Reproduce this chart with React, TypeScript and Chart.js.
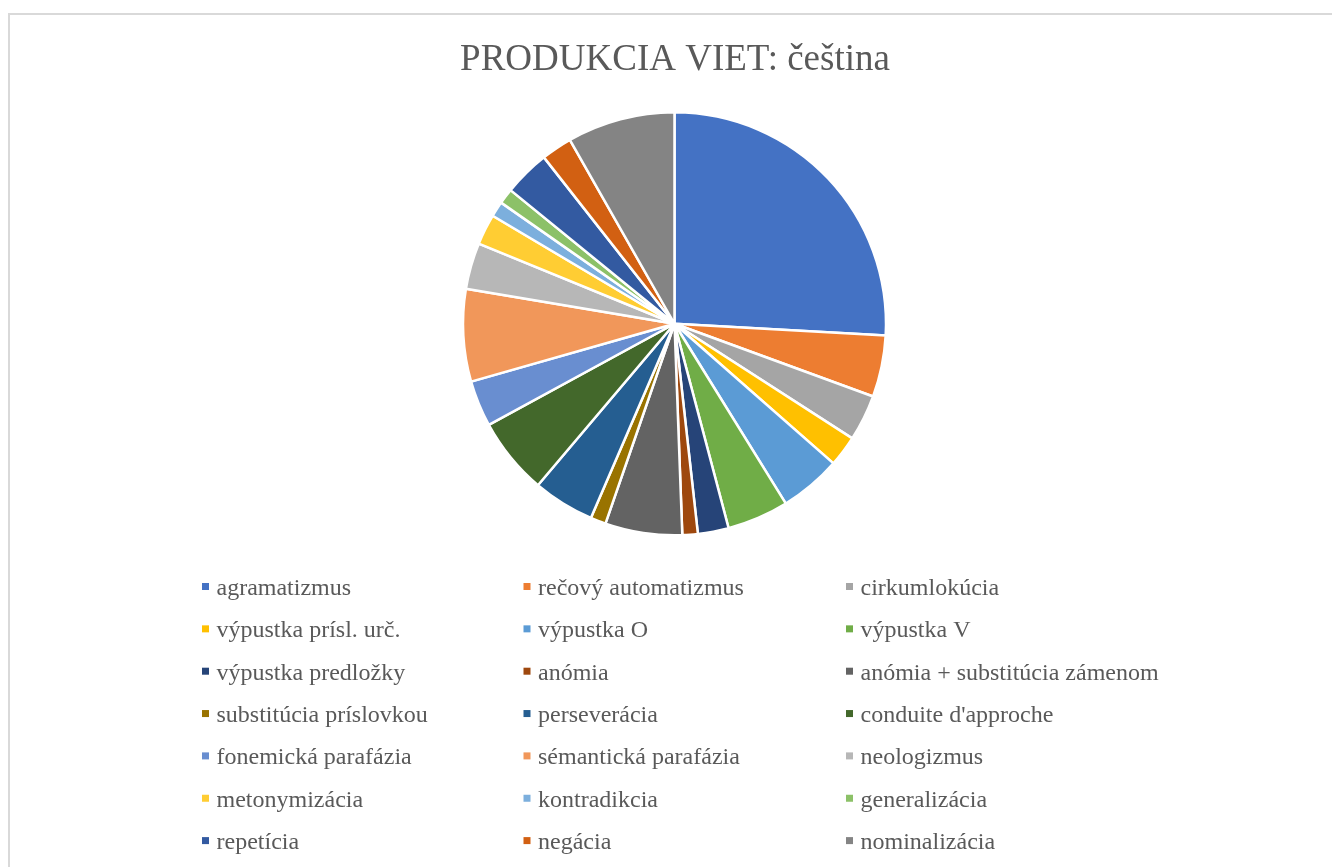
import React, { useEffect, useRef } from "react";
import { Chart, registerables } from "chart.js";

Chart.register(...registerables);

const chartTitle = "PRODUKCIA VIET: čeština";

const categories = [
  "agramatizmus",
  "rečový automatizmus",
  "cirkumlokúcia",
  "výpustka prísl. urč.",
  "výpustka O",
  "výpustka V",
  "výpustka predložky",
  "anómia",
  "anómia + substitúcia zámenom",
  "substitúcia príslovkou",
  "perseverácia",
  "conduite d'approche",
  "fonemická parafázia",
  "sémantická parafázia",
  "neologizmus",
  "metonymizácia",
  "kontradikcia",
  "generalizácia",
  "repetícia",
  "negácia",
  "nominalizácia",
];

const values = [22, 4, 3, 2, 4, 4, 2, 1, 5, 1, 4, 5, 3, 6, 3, 2, 1, 1, 3, 2, 7];

const colors = [
  "#4472C4",
  "#ED7D31",
  "#A5A5A5",
  "#FFC000",
  "#5B9BD5",
  "#70AD47",
  "#264478",
  "#9E480E",
  "#636363",
  "#997300",
  "#255E91",
  "#43682B",
  "#698ED0",
  "#F1975A",
  "#B7B7B7",
  "#FFCD33",
  "#7CAFDD",
  "#8CC168",
  "#335AA1",
  "#D26012",
  "#848484",
];

const TEXT_COLOR = "#595959";

const overlayPlugin = {
  id: "overlay",
  afterDraw(chart: any) {
    const ctx = chart.ctx as CanvasRenderingContext2D;
    ctx.save();
    // title
    ctx.fillStyle = TEXT_COLOR;
    ctx.font = '37px "Liberation Serif", "Times New Roman", serif';
    ctx.textAlign = "center";
    ctx.textBaseline = "alphabetic";
    ctx.fillText(chartTitle, 675, 69.5);

    // legend: 3 columns
    const colX = [202, 523.5, 846];
    const row0 = 586.5;
    const rowH = 42.35;
    ctx.font = '24px "Liberation Serif", "Times New Roman", serif';
    ctx.textAlign = "left";
    chart.data.labels.forEach((label: string, i: number) => {
      const col = i % 3;
      const row = Math.floor(i / 3);
      const x = colX[col];
      const cy = row0 + row * rowH;
      ctx.fillStyle = (chart.data.datasets[0].backgroundColor as string[])[i];
      ctx.fillRect(x, cy - 3.5, 7, 7);
      ctx.fillStyle = TEXT_COLOR;
      ctx.fillText(label, x + 14.5, cy + 8.5);
    });
    ctx.restore();
  },
};

export default function App() {
  const ref = useRef<HTMLCanvasElement | null>(null);

  useEffect(() => {
    if (!ref.current) return;
    const chart = new Chart(ref.current, {
      type: "pie",
      data: {
        labels: categories,
        datasets: [
          {
            data: values,
            backgroundColor: colors,
            borderColor: "#ffffff",
            borderWidth: 2.5,
          },
        ],
      },
      options: {
        animation: false,
        responsive: false,
        maintainAspectRatio: false,
        layout: { padding: { top: 111, bottom: 330.5, left: 300, right: 283 } },
        plugins: {
          legend: { display: false },
          title: { display: false },
          tooltip: { enabled: false },
        },
      },
      plugins: [overlayPlugin],
    });
    return () => chart.destroy();
  }, []);

  return (
    <div
      style={{
        position: "absolute",
        left: 0,
        top: 0,
        width: 1332,
        height: 867,
        overflow: "hidden",
        background: "#ffffff",
      }}
    >
      <div
        style={{
          position: "absolute",
          left: 8,
          top: 13,
          width: 1400,
          height: 900,
          border: "2px solid #D9D9D9",
          boxSizing: "border-box",
        }}
      />
      <canvas
        ref={ref}
        width={1332}
        height={867}
        style={{ position: "absolute", left: 0, top: 0, width: 1332, height: 867 }}
      />
    </div>
  );
}
